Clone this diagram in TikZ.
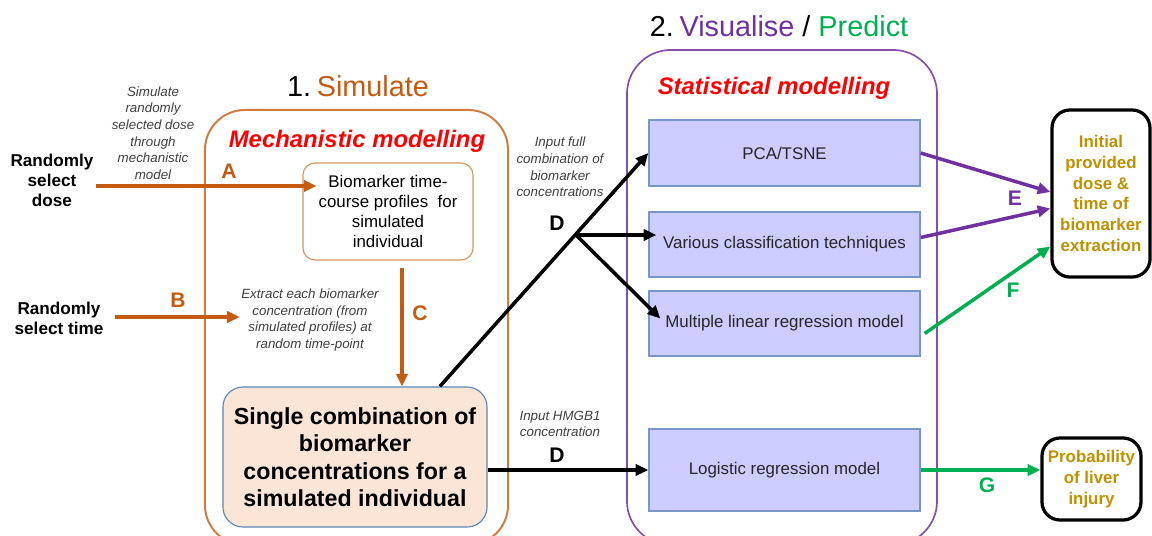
\documentclass[tikz,border=0pt]{standalone}
\usepackage{fontspec}
\setmainfont{Liberation Sans}
\usetikzlibrary{calc,arrows.meta}

\definecolor{simorange}{RGB}{197,90,17}
\definecolor{vispurple}{RGB}{112,48,160}
\definecolor{predgreen}{RGB}{0,176,80}
\definecolor{outgold}{RGB}{191,144,0}
\definecolor{modelblue}{RGB}{204,204,255}
\definecolor{modeledge}{RGB}{120,150,200}
\definecolor{combofill}{RGB}{251,229,214}
\definecolor{comboedge}{RGB}{90,135,185}
\definecolor{notegray}{RGB}{64,64,64}

\tikzset{
  note/.style={align=center, text=notegray, inner sep=1pt,
    font=\fontsize{9.5}{11.8}\selectfont\itshape},
  pick/.style={align=center, font=\fontsize{12.2}{14.2}\selectfont\bfseries},
  modelbox/.style={draw=modeledge, fill=modelblue, line width=0.9pt,
    minimum width=6.775cm, text=black!85, font=\fontsize{12}{14}\selectfont},
  outbox/.style={draw=black, line width=2.3pt, rounded corners=0.45cm, align=center,
    text=outgold, font=\fontsize{12}{14.8}\selectfont\bfseries},
  letter/.style={font=\fontsize{15}{15}\selectfont\bfseries},
  heading/.style={text=red, font=\fontsize{17}{20}\selectfont\bfseries\itshape},
  flow/.style={line width=2.5pt, -{Triangle[length=9pt,width=8pt]}},
}

\begin{document}
\begin{tikzpicture}[x=0.025cm, y=-0.025cm]
    \useasboundingbox (0,0) rectangle (1152,535);

    \node[draw=simorange!80, line width=1.4pt, rounded corners=1cm,
      minimum width=7.575cm, minimum height=10.875cm] (mech) at (356.5,327.5) {};
    \node[draw=vispurple!85, line width=1.2pt, rounded corners=1.1cm,
      minimum width=7.75cm, minimum height=12.375cm] (stat) at (782,297.5) {};

    \node[font=\fontsize{20.5}{24}\selectfont] (simtitle) at (358,86)
      {1.\hspace{0.2em}\textcolor{simorange}{Simulate}};
    \node[font=\fontsize{20.5}{24}\selectfont] (vistitle) at (779,26)
      {2.\hspace{0.2em}\textcolor{vispurple}{Visualise} / \textcolor{predgreen}{Predict}};
    \node[heading] (mechlabel) at (357,141) {Mechanistic modelling};
    \node[heading] (statlabel) at (774,88) {Statistical modelling};

    \node[draw=simorange!65, line width=0.8pt, rounded corners=0.3cm, align=center,
      minimum width=4.25cm, minimum height=2.425cm, font=\fontsize{12}{14.2}\selectfont]
      (profiles) at (388,211.5) {Biomarker time-\\course profiles\ \ for\\simulated\\individual};
    \node[draw=comboedge, fill=combofill, line width=0.8pt, rounded corners=0.5cm, align=center,
      minimum width=6.6cm, minimum height=3.5cm, font=\fontsize{16.5}{19.5}\selectfont\bfseries]
      (combo) at (355,457) {Single combination of\\biomarker\\concentrations for a\\simulated individual};

    \node[pick] (seldose) at (52,180) {Randomly\\select\\dose};
    \node[pick] (seltime) at (59,318) {Randomly\\select time};

    \node[note] (simnote) at (153,133) {Simulate\\randomly\\selected dose\\through\\mechanistic\\model};
    \node[note] (extract) at (310,320) {Extract each biomarker\\concentration (from\\simulated profiles) at\\random time-point};
    \node[note] (fullnote) at (560,167) {Input full\\combination of\\biomarker\\concentrations};
    \node[note] (hmgbnote) at (560,424) {Input HMGB1\\concentration};

    \node[modelbox, minimum height=1.65cm] (pca) at (784.5,153) {PCA/TSNE};
    \node[modelbox, minimum height=1.625cm] (various) at (784.5,244.5) {Various classification techniques};
    \node[modelbox, minimum height=1.625cm] (multi) at (784.5,323.5) {Multiple linear regression model};
    \node[modelbox, minimum height=2.05cm] (logit) at (784.5,470) {Logistic regression model};

    \node[outbox, minimum width=2.45cm, minimum height=4.175cm] (dose) at (1101,193.5)
      {Initial\\provided\\dose \&\\time of\\biomarker\\extraction};
    \node[outbox, minimum width=2.475cm, minimum height=2.05cm] (liver) at (1091.5,479)
      {Probability\\of liver\\injury};

    \node[letter, text=simorange] (la) at (229,171) {A};
    \node[letter, text=simorange] (lb) at (178,300) {B};
    \node[letter, text=simorange] (lc) at (420,313) {C};
    \node[letter] (ld1) at (557,223) {D};
    \node[letter] (ld2) at (557,455) {D};
    \node[letter, text=vispurple] (le) at (1015,198) {E};
    \node[letter, text=predgreen] (lf) at (1013,290) {F};
    \node[letter, text=predgreen] (lg) at (987,485) {G};

    \coordinate (a0) at (96,186);
    \coordinate (b0) at (115,317);
    \coordinate (c0) at (402,268);
    \coordinate (d0) at ($(combo.north west)!0.82!(combo.north east)$);
    \coordinate (br) at (576,235);

    \draw[flow, simorange] (a0) -- ($(a0 -| profiles.west)+(14,0)$);
    \draw[flow, simorange] (b0) -- (b0 -| extract.west);
    \draw[flow, simorange] (c0) -- (c0 |- combo.north);

    \draw[flow] (d0) -- (pca.west);
    \draw[flow] (br) -- ($(br -| various.west)+(8,0)$);
    \draw[flow] (br) -- ($(multi.west)+(12,-5)$);
    \draw[flow] (combo.east |- logit) -- (logit.west);

    \draw[flow, vispurple] (pca.east) -- ($(dose.west)+(0,-1.5)$);
    \draw[flow, vispurple] ($(various.east)+(0,-7)$) -- ($(dose.west)+(0,15)$);
    \draw[flow, predgreen] ($(multi.east)+(4,10)$) -- ($(dose.west)+(0,53)$);
    \draw[flow, predgreen] (logit.east) -- (logit.east -| liver.west);
\end{tikzpicture}
\end{document}
